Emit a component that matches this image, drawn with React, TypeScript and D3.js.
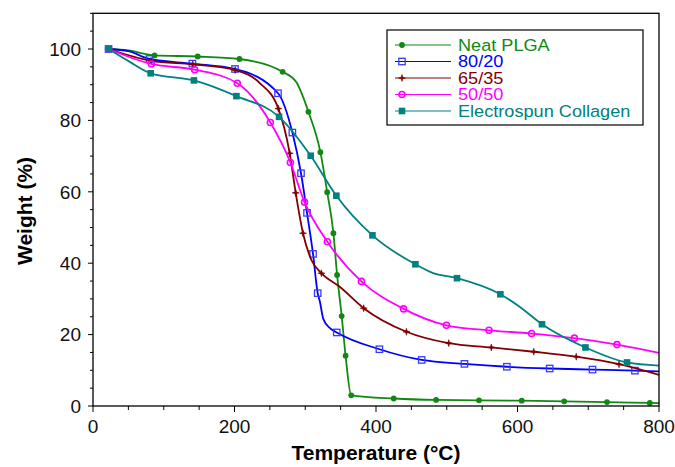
import React from "react";
import * as d3 from "d3";

// ---- data (Temperature °C, Weight %) ----
const plgaMarkers: [number, number][] = [
  [22, 100], [87, 98.2], [148, 97.9], [207, 97.2], [268, 93.6], [304.5, 82.4], [321.4, 71.1],
  [331, 59.9], [339.8, 48.4], [345, 36.7], [351.5, 25.2], [357, 14.1], [365, 3.0], [425, 2.1],
  [485, 1.7], [545.6, 1.6], [606, 1.5], [666, 1.3], [726.5, 1.1], [787, 0.85],
];
const plgaKnots: [number, number][] = [[50, 99.6], [287, 90.8], [800, 0.8]];

const p8020Markers: [number, number][] = [
  [22, 100], [80, 97.2], [140.5, 95.9], [200.7, 94.4], [261.5, 87.6], [281.8, 76.6], [294, 65.2],
  [302.5, 54.1], [311, 42.6], [317.6, 31.6], [344.5, 20.6], [404.8, 15.9], [464.6, 12.9],
  [525, 11.8], [585, 11.0], [645.5, 10.5], [706, 10.2], [766, 9.9],
];
const p8020Knots: [number, number][] = [[50, 99.4], [320.5, 29.4], [325.5, 24.4], [335, 21.8], [800, 9.7]];

const p6535Markers: [number, number][] = [
  [22, 100], [82, 96.7], [141, 95.7], [201, 94.1], [262, 83.3], [278, 70.8], [286.5, 59.7],
  [296.8, 48.4], [322.8, 37.2], [382.6, 27.4], [443, 20.8], [502.8, 17.6], [563, 16.4],
  [623, 15.2], [683, 13.8], [743.5, 11.7],
];
const p6535Knots: [number, number][] = [[236, 90.4], [308.7, 40.9], [348.7, 33.4], [800, 8.7]];

const p5050Markers: [number, number][] = [
  [22, 100], [82.5, 95.8], [143.7, 94.2], [204, 90.4], [250.7, 79.4], [279, 68.2], [299, 57.1],
  [331.3, 46.0], [379.4, 34.9], [439, 27.2], [499.5, 22.6], [559.7, 21.2], [620, 20.3],
  [680.4, 19.0], [740.6, 17.2],
];
const p5050Knots: [number, number][] = [[800, 14.9]];

const collagenMarkers: [number, number][] = [
  [22, 100], [81.5, 93.2], [142.7, 91.2], [202.7, 86.8], [263, 81.0], [307.7, 70.1], [344, 58.9],
  [395, 47.8], [455.7, 39.7], [514.5, 35.8], [575.8, 31.3], [634.6, 22.9], [696, 16.4],
  [754.8, 12.2],
];
const collagenKnots: [number, number][] = [[52, 96.4], [480, 37.3], [603, 27.8], [800, 11.3]];

const seriesNames = ["Neat PLGA", "80/20", "65/35", "50/50", "Electrospun Collagen"];
const xTickLabels = [0, 200, 400, 600, 800];
const yTickLabels = [0, 20, 40, 60, 80, 100];

// ---- styling ----
const colors = ["#118811", "#0000ff", "#800000", "#ff00ff", "#008080"];
const markerTypes = ["dot", "square", "cross", "circle", "filledSquare"];
const allMarkers = [plgaMarkers, p8020Markers, p6535Markers, p5050Markers, collagenMarkers];
const allKnots = [plgaKnots, p8020Knots, p6535Knots, p5050Knots, collagenKnots];

const W = 675, H = 467;
const x = d3.scaleLinear().domain([0, 800]).range([93, 659]);
const y = d3.scaleLinear().domain([0, 110]).range([406, 406 - 110 * 3.57]);
const FONT = "Arial, 'Liberation Sans', Helvetica, sans-serif";

function Marker({ type, cx, cy, color }: { type: string; cx: number; cy: number; color: string }) {
  switch (type) {
    case "dot":
      return <circle cx={cx} cy={cy} r={2.9} fill={color} />;
    case "square":
      return <rect x={cx - 3.2} y={cy - 3.2} width={6.4} height={6.4} fill="none" stroke="#3a3aff" strokeWidth={1.3} />;
    case "cross":
      return (
        <path
          d={`M${cx - 3.5},${cy}L${cx - 0.8},${cy - 0.8}L${cx},${cy - 3.5}L${cx + 0.8},${cy - 0.8}L${cx + 3.5},${cy}L${cx + 0.8},${cy + 0.8}L${cx},${cy + 3.5}L${cx - 0.8},${cy + 0.8}Z`}
          fill={color}
          stroke={color}
          strokeWidth={0.6}
        />
      );
    case "circle":
      return <circle cx={cx} cy={cy} r={3} fill="none" stroke={color} strokeWidth={1.6} />;
    case "filledSquare":
      return <rect x={cx - 3.3} y={cy - 3.3} width={6.6} height={6.6} fill={color} />;
    default:
      return null;
  }
}

export default function App() {
  const line = d3
    .line<[number, number]>()
    .x((d) => x(d[0]))
    .y((d) => y(d[1]))
    .curve(d3.curveMonotoneX);

  const xMinor = d3.range(0, 801, 50);
  const yMinor = d3.range(0, 111, 5);

  const legendX = 387, legendY = 30, legendW = 256, legendH = 95;
  const rowY = (i: number) => 45 + i * 16.5;

  return (
    <svg width={W} height={H} style={{ position: "absolute", left: 0, top: 0, background: "#fff" }} fontFamily={FONT}>
      <rect x={0} y={0} width={W} height={H} fill="#fff" />
      {/* series */}
      {allMarkers.map((m, i) => {
        const pts = [...m, ...allKnots[i]].sort((a, b) => a[0] - b[0]);
        return (
          <g key={i}>
            <path d={line(pts) || ""} fill="none" stroke={colors[i]} strokeWidth={1.8} />
            {m.map((p, j) => (
              <Marker key={j} type={markerTypes[i]} cx={x(p[0])} cy={y(p[1])} color={colors[i]} />
            ))}
          </g>
        );
      })}

      {/* frame */}
      <rect x={x(0)} y={y(110)} width={x(800) - x(0)} height={y(0) - y(110)} fill="none" stroke="#000" strokeWidth={1.3} />

      {/* x ticks */}
      {xMinor.map((t) => (
        <line key={t} x1={x(t)} x2={x(t)} y1={y(0)} y2={y(0) + (t % 200 === 0 ? 6 : 4)} stroke="#000" strokeWidth={1} />
      ))}
      {xTickLabels.map((t) => (
        <text key={t} x={x(t)} y={433} textAnchor="middle" fontSize={19} fill="#111">
          {t}
        </text>
      ))}
      {/* y ticks */}
      {yMinor.map((t) => (
        <line key={t} x1={x(0)} x2={x(0) - (t % 20 === 0 ? 5 : 3)} y1={y(t)} y2={y(t)} stroke="#000" strokeWidth={1} />
      ))}
      {yTickLabels.map((t) => (
        <text key={t} x={81} y={y(t)} dy="0.36em" textAnchor="end" fontSize={19} fill="#111">
          {t}
        </text>
      ))}

      {/* axis titles */}
      <text x={376} y={460} textAnchor="middle" fontSize={21} fontWeight="bold" fill="#000">
        Temperature (°C)
      </text>
      <text transform="translate(32,211) rotate(-90)" textAnchor="middle" fontSize={21} fontWeight="bold" fill="#000">
        Weight (%)
      </text>

      {/* legend */}
      <rect x={legendX} y={legendY} width={legendW} height={legendH} fill="#fff" stroke="#000" strokeWidth={1.2} />
      {seriesNames.map((name, i) => (
        <g key={name}>
          <line x1={395} x2={451} y1={rowY(i)} y2={rowY(i)} stroke={colors[i]} strokeWidth={1.2} />
          <Marker type={markerTypes[i]} cx={402} cy={rowY(i)} color={colors[i]} />
          <text
            transform={`translate(458,${rowY(i)}) scale(1.1,1)`}
            dy="0.36em"
            fontSize={16.5}
            fill={colors[i]}
          >
            {name}
          </text>
        </g>
      ))}
    </svg>
  );
}
